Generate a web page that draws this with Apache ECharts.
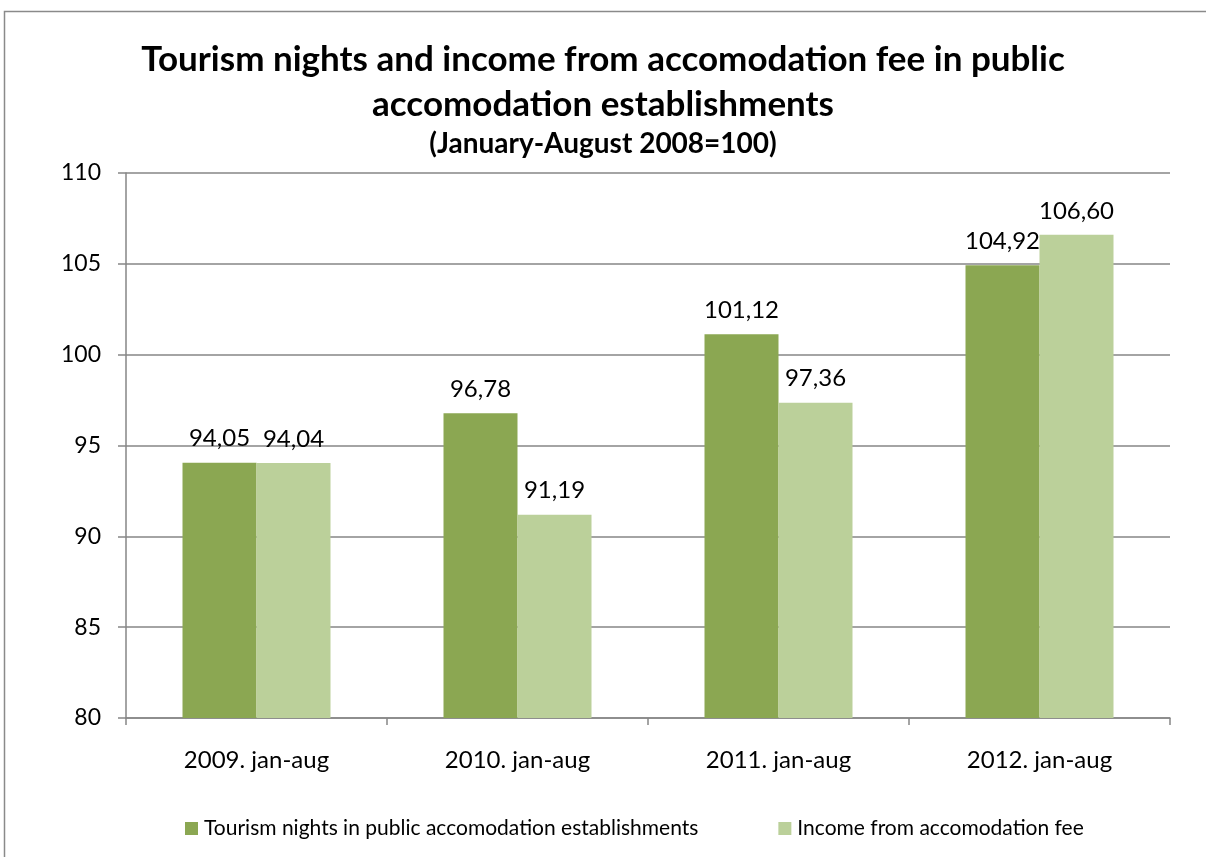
<!DOCTYPE html>
<html><head><meta charset="utf-8">
<script src="https://cdn.jsdelivr.net/npm/echarts@6/dist/echarts.min.js"></script>
<style>html,body{margin:0;padding:0;background:#fff}#c{width:1206px;height:857px}</style>
</head><body><div id="c"></div>
<script>
const categories = ['2009. jan-aug', '2010. jan-aug', '2011. jan-aug', '2012. jan-aug'];
const seriesNames = ['Tourism nights in public accomodation establishments', 'Income from accomodation fee'];
const nights = [94.05, 96.78, 101.12, 104.92];
const income = [94.04, 91.19, 97.36, 106.60];
const yTicks = [80, 85, 90, 95, 100, 105, 110];

const FONT = 'Lato, "Open Sans", sans-serif';
const chart = echarts.init(document.getElementById('c'));
const lbl = {
  show: true, position: 'top', distance: 12, color: '#000', fontSize: 24, fontFamily: FONT,
  formatter: p => p.value.toFixed(2).replace('.', ',')
};
chart.setOption({
  animation: false,
  textStyle: { fontFamily: FONT },
  graphic: [{ type: 'rect', shape: { x: 4.5, y: 11.5, width: 1300, height: 900 }, style: { fill: 'none', stroke: '#8a8a8a', lineWidth: 1.5 }, silent: true }],
  title: [
    { text: 'Tourism nights and income from accomodation fee in public\naccomodation establishments', left: 'center', top: 32,
      textStyle: { fontSize: 35, fontWeight: 'bold', color: '#000', lineHeight: 45, fontFamily: FONT } },
    { text: '(January-August 2008=100)', left: 'center', top: 125,
      textStyle: { fontSize: 28, fontWeight: 'bold', color: '#000', fontFamily: FONT } }
  ],
  legend: {
    top: 813, left: 180, itemWidth: 13, itemHeight: 13, itemGap: 80, icon: 'rect',
    textStyle: { fontSize: 21, color: '#000', padding: [0, 0, 0, 1] },
    data: seriesNames
  },
  grid: { left: 126, right: 36, top: 173, bottom: 139 },
  xAxis: {
    type: 'category', data: categories,
    axisLine: { lineStyle: { color: '#868686', width: 1.5 } },
    axisTick: { show: true, length: 7, lineStyle: { color: '#868686', width: 1.5 } },
    axisLabel: { fontSize: 24, color: '#000', margin: 30 }
  },
  yAxis: {
    type: 'value', min: yTicks[0], max: yTicks[yTicks.length - 1], interval: 5,
    axisLine: { show: true, lineStyle: { color: '#868686', width: 1.5 } },
    axisTick: { show: true, length: 8, lineStyle: { color: '#868686', width: 1.5 } },
    axisLabel: { fontSize: 23, color: '#000', margin: 25 },
    splitLine: { lineStyle: { color: '#868686', width: 1.5 } }
  },
  series: [
    { name: seriesNames[0], type: 'bar', data: nights, barWidth: 74, barGap: '0%', itemStyle: { color: '#8ba752' }, label: lbl },
    { name: seriesNames[1], type: 'bar', data: income, barWidth: 74, barGap: '0%', itemStyle: { color: '#bbd09a' }, label: lbl }
  ]
});
</script></body></html>
